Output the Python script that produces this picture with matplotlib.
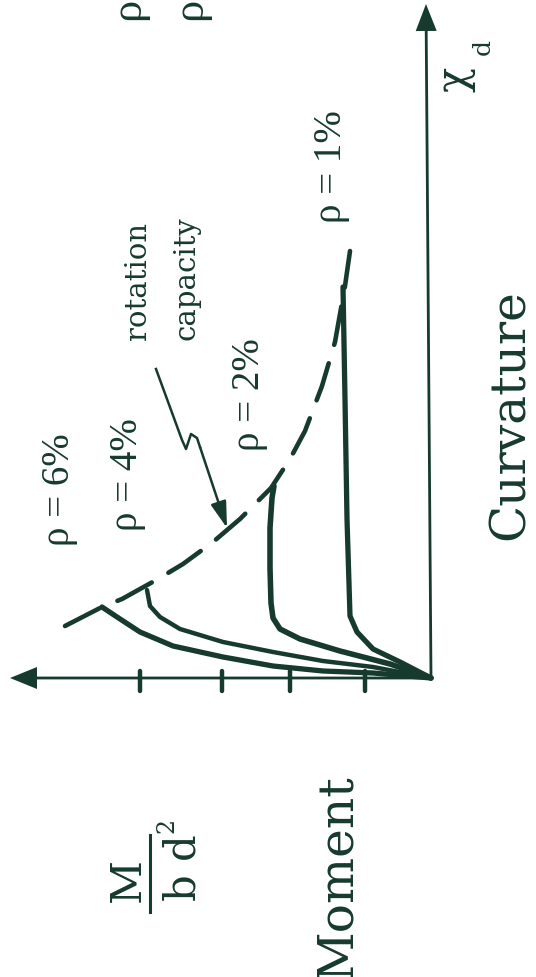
import matplotlib
matplotlib.use("Agg")
import matplotlib.pyplot as plt

# Moment-curvature sketch, drawn turned 90 degrees like the scan:
# moment runs to the left, curvature runs up. Units are pixels from the origin.

ink = '#173a2e'
plt.rcParams['font.family'] = ['DejaVu Serif']

# moment-curvature curves (moment, curvature)
rho6_M = [0, 58, 108, 158, 208, 258, 291, 314, 329]
rho6_chi = [0, 5, 7, 12, 21, 32, 46, 61, 71]

rho4_M = [0, 58, 108, 158, 208, 251, 271, 281, 284]
rho4_chi = [0, 11, 17, 26, 36, 49, 61, 72, 88]

rho2_M = [0, 41, 91, 131, 151, 158, 160, 161, 161, 159, 157]
rho2_chi = [0, 14, 27, 39, 49, 60, 75, 110, 150, 180, 192]

rho1_M = [0, 31, 58, 74, 81, 84, 86, 88]
rho1_chi = [0, 16, 29, 46, 62, 159, 279, 391]

# rotation capacity envelope (dashed)
env_M = [366, 329, 309, 273, 248, 218, 191, 160, 141, 126, 109, 96, 86, 81]
env_chi = [52, 71, 79, 99, 114, 136, 159, 190, 219, 247, 292, 336, 392, 427]

# moment axis ticks
tick_M = [66, 141, 209, 291]

# pointer from "rotation capacity" to the envelope
ptr_M = [275, 249, 245, 240, 234, 231]
ptr_chi = [309, 238, 229, 244, 240, 231]
ptr_tip = (204, 150)

fig = plt.figure(figsize=(5.36, 9.78), dpi=100)
ax = fig.add_axes([0, 0, 1, 1])
ax.set_xlim(431, 431 - 536)
ax.set_ylim(679 - 978, 679)
ax.axis('off')

# axes with arrows
ax.arrow(0, 0, 421, 0, width=2.8, head_width=22, head_length=27,
         length_includes_head=True, fc=ink, ec=ink, lw=0)
ax.arrow(0, 0, 5, 674, width=2.8, head_width=21, head_length=27,
         length_includes_head=True, fc=ink, ec=ink, lw=0)
ax.vlines(tick_M, -13, 7, color=ink, lw=3.2, capstyle='round')

# curves
ax.plot(rho6_M, rho6_chi, color=ink, lw=3.8, solid_joinstyle='round', solid_capstyle='round')
ax.plot(rho4_M, rho4_chi, color=ink, lw=3.2, solid_joinstyle='round', solid_capstyle='round')
ax.plot(rho2_M, rho2_chi, color=ink, lw=4.0, solid_joinstyle='round', solid_capstyle='round')
ax.plot(rho1_M, rho1_chi, color=ink, lw=3.8, solid_joinstyle='round', solid_capstyle='round')
ax.plot(env_M, env_chi, color=ink, lw=3.3, linestyle=(0, (8.5, 4.2)), dash_capstyle='round')

# pointer
ax.plot(ptr_M, ptr_chi, color=ink, lw=1.8, solid_joinstyle='round')
ax.annotate('', xy=ptr_tip, xytext=(ptr_M[-1], ptr_chi[-1]),
            arrowprops=dict(arrowstyle='-|>,head_length=1.0,head_width=0.3',
                            color=ink, lw=1.8, mutation_scale=16, shrinkA=0, shrinkB=0))

# labels
lab = dict(rotation=90, color=ink, ha='center', va='center')
rho_font = dict(fontsize=28, family=['Liberation Serif', 'DejaVu Serif'])
ax.text(371, 189, 'ρ = 6%', **rho_font, **lab)
ax.text(304, 204, 'ρ = 4%', **rho_font, **lab)
ax.text(181, 284, 'ρ = 2%', **rho_font, **lab)
ax.text(99, 512, 'ρ = 1%', **rho_font, **lab)
ax.text(293, 339, 'rotation', fontsize=21, rotation=90, color=ink, ha='center', va='bottom')
ax.text(245, 339, 'capacity', fontsize=21, rotation=90, color=ink, ha='center', va='bottom')

ax.text(-79, 264, 'Curvature', fontsize=35, **lab)
ax.text(93, -198, 'Moment', fontsize=35, **lab)
ax.text(-24, 600, 'χ', fontsize=30, **lab)
ax.text(-52, 632, 'd', fontsize=18, **lab)

# M / b d^2
ax.text(303, -201, 'M', fontsize=31, **lab)
ax.plot([281, 281], [-157, -234], color=ink, lw=2.2)
ax.text(247, -189, 'b d', fontsize=30, **lab)
ax.text(264, -146, '2', fontsize=17, **lab)

# cut-off symbols at the top edge
ax.text(303, 659, 'ρ', fontsize=32, rotation=90, color=ink, ha='center', va='bottom',
        family=['Liberation Serif', 'DejaVu Serif'])
ax.text(241, 659, 'ρ', fontsize=32, rotation=90, color=ink, ha='center', va='bottom',
        family=['Liberation Serif', 'DejaVu Serif'])

fig.savefig('out.png', dpi=100)
